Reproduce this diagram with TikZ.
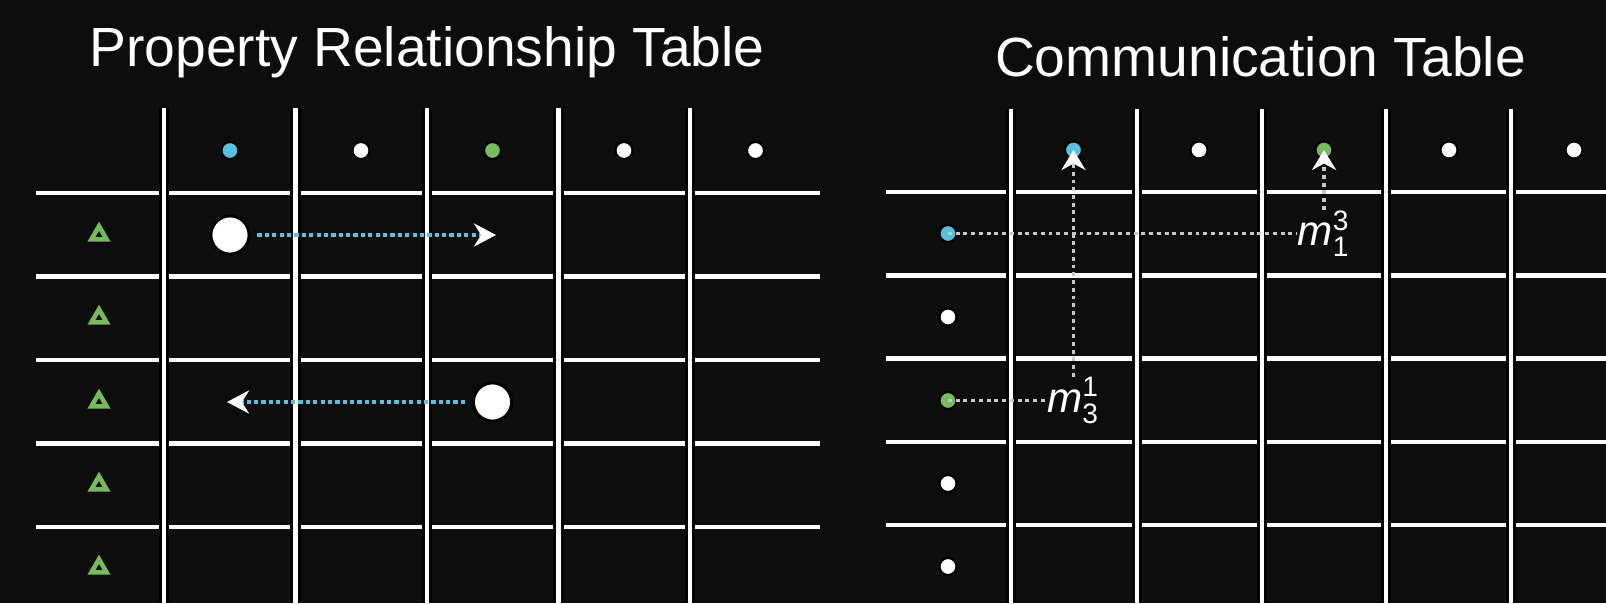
\documentclass[tikz,border=0pt]{standalone}
\usepackage{fontspec}
\setmainfont{Liberation Sans}
\usepackage{amsmath}
\usetikzlibrary{arrows.meta,shapes.geometric}
\definecolor{fondo}{RGB}{13,13,13}
\definecolor{azul}{RGB}{86,194,224}
\definecolor{verde}{RGB}{118,188,90}
\definecolor{gris}{RGB}{200,200,200}

\begin{document}
\begin{tikzpicture}[x=0.01cm,y=-0.01cm,
  every node/.style={text=white,inner sep=0pt},
  titulo/.style={font=\fontsize{15.7}{18}\selectfont,anchor=base},
  hline/.style={draw=white,line width=1.2pt},
  vline/.style={draw=white,line width=1.2pt,preaction={draw=black,line width=3pt}},
  punto/.style={circle,fill=#1,draw=black,line width=0.6pt,minimum size=0.17cm},
  punto/.default=white,
  grande/.style={circle,fill=white,draw=black,line width=0.8pt,minimum size=0.38cm},
  tri/.style={regular polygon,regular polygon sides=3,draw=verde,line width=1.3pt,minimum size=0.175cm},
  flecha/.style={azul,line width=1.3pt,dash pattern=on 1.2pt off 0.9pt,shorten <=2pt,
    -{Stealth[color=white,length=0.22cm,width=0.23cm]}},
  enlace/.style={gris,line width=1.1pt,dash pattern=on 1.1pt off 1.1pt,
    -{Stealth[color=white,length=0.2cm,width=0.24cm]}},
  etiq/.style={font=\fontsize{12}{14}\selectfont}]

% Fondo
\fill[fondo] (0,0) rectangle (1606,603);
\useasboundingbox (0,0) rectangle (1606,603);

% Titulos
\node[titulo] (tprop) at (427,66.5) {Property Relationship Table};
\node[titulo] (tcom) at (1260.5,77) {Communication Table};

% Rejilla izquierda
\foreach \y in {193,276.5,360,443.5,527} \draw[hline] (36,\y) -- (820,\y);
\foreach \x in {164,295.5,427,558.5,690} \draw[vline] (\x,108) -- (\x,603);

% Rejilla derecha
\foreach \y in {192,275.5,358.5,442,525} \draw[hline] (886,\y) -- (1606,\y);
\foreach \x in {1011,1137,1262,1386,1511} \draw[vline] (\x,109) -- (\x,603);

% Propiedades y relaciones
\foreach \x/\c [count=\i] in {230/azul,361/white,492.5/verde,624/white,755.5/white}
  \node[punto=\c] (pt\i) at (\x,150.5) {};
\foreach \y [count=\i] in {235,318,402,485,568}
  \node[tri] (tr\i) at (99,\y) {};

\node[grande] (pa) at (230,235) {};
\node[grande] (pb) at (492.5,402) {};
\coordinate (ta) at (496,235);
\coordinate (tb) at (227,402);
\draw[flecha] (pa) -- (ta);
\draw[flecha] (pb) -- (tb);

% Agentes de la tabla de comunicacion
\foreach \x/\c [count=\i] in {1073.5/azul,1199/white,1324/verde,1449/white,1574/white}
  \node[punto=\c] (ct\i) at (\x,150) {};
\foreach \y/\c [count=\i] in {233.5/azul,317/white,400.5/verde,483.5/white,566.5/white}
  \node[punto=\c] (cl\i) at (948,\y) {};

% Mensajes
\node[etiq] (m13) at (1324,233.5) {$\textit{m}^{\text{3}}_{\text{1}}$};
\node[etiq] (m31) at (1073.5,400.5) {$\textit{m}^{\text{1}}_{\text{3}}$};

\draw[enlace,-] (cl1.center) -- (m13);
\draw[enlace] (m13) -- (ct3.center);
\draw[enlace,-] (cl3.center) -- (m31);
\draw[enlace] (m31) -- (ct1.center);

\end{tikzpicture}
\end{document}
